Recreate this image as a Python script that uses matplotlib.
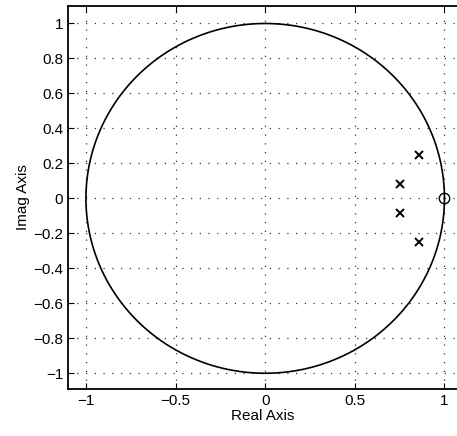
import numpy as np
import matplotlib
matplotlib.use("Agg")
import matplotlib.pyplot as plt

# Pole / zero locations
pole_re = [0.75, 0.75, 0.86, 0.86]
pole_im = [0.085, -0.085, 0.25, -0.25]
zero_re = [1.0]
zero_im = [0.0]

x_ticks = [-1, -0.5, 0, 0.5, 1]
x_labels = ["\u22121", "\u22120.5", "0", "0.5", "1"]
y_ticks = [-1, -0.8, -0.6, -0.4, -0.2, 0, 0.2, 0.4, 0.6, 0.8, 1]
y_labels = ["\u22121", "\u22120.8", "\u22120.6", "\u22120.4", "\u22120.2", "0",
            "0.2", "0.4", "0.6", "0.8", "1"]

plt.rcParams["font.family"] = ["Liberation Sans", "DejaVu Sans"]

fig = plt.figure(figsize=(4.57, 4.36), dpi=100)
ax = fig.add_axes([68 / 457, 47 / 436, (457 - 68) / 457, (389 - 6) / 436])

# Unit circle
t = np.linspace(0, 2 * np.pi, 400)
ax.plot(np.cos(t), np.sin(t), color="black", lw=1.2)

# Poles and zeros
ax.plot(pole_re, pole_im, "x", color="black", ms=6, mew=1.4)
ax.plot(zero_re, zero_im, "o", mfc="none", mec="black", ms=7.5, mew=1.0)

# Limits and ticks
ax.set_xlim(-1.1, 1.07)
ax.set_ylim(-1.09, 1.1)
ax.set_xticks(x_ticks)
ax.set_xticklabels(x_labels)
ax.set_yticks(y_ticks)
ax.set_yticklabels(y_labels)
ax.tick_params(direction="in", length=4, labelsize=11, top=True, right=False)

# Grid
ax.grid(True, linestyle=(0, (1, 6)), color="#333333", lw=0.9)

# Labels
ax.set_xlabel("Real Axis", fontsize=11, labelpad=1)
ax.set_ylabel("Imag Axis", fontsize=11, labelpad=2)

ax.spines["right"].set_visible(False)
for s in ["left", "top", "bottom"]:
    ax.spines[s].set_linewidth(1.3)

fig.savefig("out.png", dpi=100)
